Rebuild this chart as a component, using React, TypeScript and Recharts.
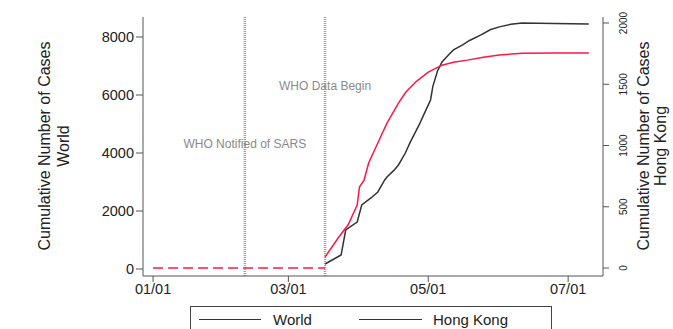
import React from 'react';
import { LineChart, Line, XAxis, YAxis, ReferenceLine, ReferenceDot } from 'recharts';

// day of year 2003 (01/01 = 0)
const worldDays = [75, 82, 84, 89, 91, 95, 98, 101, 102, 105, 107, 110, 112, 116, 118, 121, 122, 124, 126, 129, 131, 135, 138, 143, 147, 151, 156, 161, 175, 190];
const worldCases = [172, 483, 1345, 1621, 2208, 2450, 2656, 3070, 3174, 3400, 3588, 4000, 4347, 4968, 5313, 5830, 6300, 6820, 7141, 7400, 7555, 7728, 7880, 8073, 8250, 8349, 8440, 8487, 8470, 8452];

const hkDays = [75, 81, 85, 89, 90, 92, 94, 100, 102, 107, 110, 113, 115, 120, 126, 131, 137, 144, 151, 161, 175, 190];
const hkCases = [90, 253, 351, 514, 661, 718, 857, 1102, 1183, 1346, 1430, 1490, 1526, 1599, 1656, 1680, 1697, 1720, 1738, 1754, 1755, 1755];

const preDays = [0, 75];
const preCases = [0, 0];

const xTicks = [0, 59, 120, 181];
const xTickLabels = ['01/01', '03/01', '05/01', '07/01'];
const worldTicks = [0, 2000, 4000, 6000, 8000];
const hkTicks = [0, 500, 1000, 1500, 2000];

const eventDays = [40, 75];
const eventLabels = ['WHO Notified of SARS', 'WHO Data Begin'];
const eventLabelLevels = [4310, 6310];

const worldData = worldDays.map((d, i) => ({ d, v: worldCases[i] }));
const hkData = hkDays.map((d, i) => ({ d, v: hkCases[i] }));
const preData = preDays.map((d, i) => ({ d, v: preCases[i] }));

const FONT = '"Liberation Sans", Arial, Helvetica, sans-serif';
const RED = '#ff1744';
const BLACK = '#333333';

const RightTick = (props: any) => {
  const { x, y, payload } = props;
  return (
    <text x={x + 16} y={y} transform={`rotate(-90, ${x + 16}, ${y})`} textAnchor="middle" fontSize={10} fill="#222" fontFamily={FONT}>
      {payload.value}
    </text>
  );
};

const titleCenterY = 146;

export default function App() {
  return (
    <div style={{ position: 'absolute', left: 0, top: 0, width: 673, height: 329, background: '#fff', overflow: 'hidden', fontFamily: FONT }}>
      <LineChart width={673} height={329} margin={{ top: 17, right: 0, bottom: 0, left: 0 }}>
        <XAxis
          type="number"
          dataKey="d"
          domain={[-4.4, 196.2]}
          ticks={xTicks}
          tickFormatter={(v: number) => xTickLabels[xTicks.indexOf(v)] ?? ''}
          height={53}
          stroke="#555"
          tickSize={6}
          tick={{ fontSize: 14.5, fill: '#222', fontFamily: FONT }}
          allowDataOverflow
        />
        <YAxis
          yAxisId="world"
          orientation="left"
          width={143}
          domain={[-241, 8690]}
          ticks={worldTicks}
          stroke="#555"
          tickSize={7}
          tick={{ fontSize: 14.5, fill: '#222', fontFamily: FONT }}
          allowDataOverflow
          label={() => (
            <g fontFamily={FONT} fontSize={16} fill="#222">
              <text x={44} y={titleCenterY} transform={`rotate(-90, 44, ${titleCenterY})`} textAnchor="middle" dominantBaseline="central">Cumulative Number of Cases</text>
              <text x={63} y={titleCenterY} transform={`rotate(-90, 63, ${titleCenterY})`} textAnchor="middle" dominantBaseline="central">World</text>
            </g>
          )}
        />
        <YAxis
          yAxisId="hk"
          orientation="right"
          width={70}
          domain={[-65, 2049]}
          ticks={hkTicks}
          stroke="#555"
          tickSize={6}
          tick={<RightTick />}
          allowDataOverflow
          label={() => (
            <g fontFamily={FONT} fontSize={16} fill="#222">
              <text x={643} y={titleCenterY} transform={`rotate(-90, 643, ${titleCenterY})`} textAnchor="middle" dominantBaseline="central">Cumulative Number of Cases</text>
              <text x={660} y={titleCenterY} transform={`rotate(-90, 660, ${titleCenterY})`} textAnchor="middle" dominantBaseline="central">Hong Kong</text>
            </g>
          )}
        />
        {eventDays.map((d) => (
          <ReferenceLine key={d} x={d} yAxisId="world" stroke="#a0a0a0" strokeWidth={2.5} strokeDasharray="1 1" />
        ))}
        {eventDays.map((d, i) => (
          <ReferenceDot
            key={'l' + d}
            x={d}
            y={eventLabelLevels[i]}
            yAxisId="world"
            r={0}
            fill="none"
            stroke="none"
            label={{ value: eventLabels[i], position: 'center', fontSize: 12, fill: '#8a8a8a', fontFamily: FONT }}
          />
        ))}
        <Line data={preData} dataKey="v" yAxisId="hk" type="linear" stroke={RED} strokeWidth={1.5} strokeDasharray="10 5" dot={false} isAnimationActive={false} />
        <Line data={worldData} dataKey="v" yAxisId="world" type="linear" stroke={BLACK} strokeWidth={1.5} dot={false} isAnimationActive={false} />
        <Line data={hkData} dataKey="v" yAxisId="hk" type="linear" stroke={RED} strokeWidth={1.5} dot={false} isAnimationActive={false} />
      </LineChart>
      <div style={{ position: 'absolute', left: 190, top: 306, width: 362, height: 40, border: '1px solid #444', boxSizing: 'border-box', background: '#fff' }}>
        <div style={{ position: 'absolute', left: 8, top: 12, width: 62, borderTop: `1.5px solid ${BLACK}` }} />
        <div style={{ position: 'absolute', left: 82, top: 4, fontSize: 15, color: '#222' }}>World</div>
        <div style={{ position: 'absolute', left: 168, top: 12, width: 63, borderTop: `1.5px solid ${BLACK}` }} />
        <div style={{ position: 'absolute', left: 242, top: 4, fontSize: 15, color: '#222' }}>Hong Kong</div>
      </div>
    </div>
  );
}
